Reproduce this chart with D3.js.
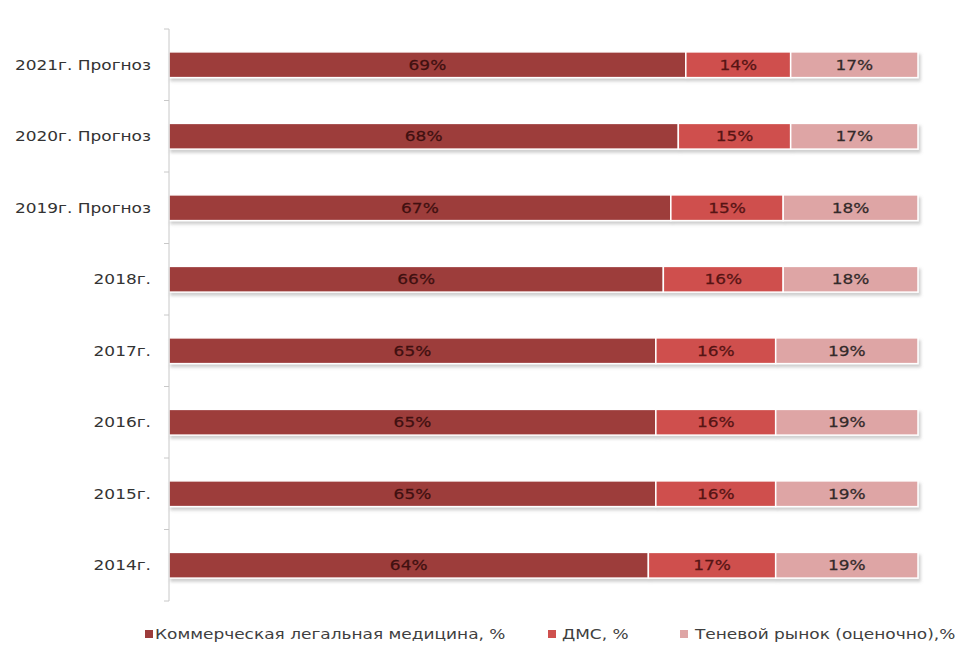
<!DOCTYPE html>
<html>
<head>
<meta charset="utf-8">
<script src="https://cdn.jsdelivr.net/npm/d3@7"></script>
<style>
  body { margin: 0; background: #fff; }
  text { font-family: "DejaVu Sans", Verdana, sans-serif; }
</style>
</head>
<body>
<div id="chart"></div>
<script>
// data (top to bottom as drawn)
let years = ["2021г. Прогноз", "2020г. Прогноз", "2019г. Прогноз", "2018г.", "2017г.", "2016г.", "2015г.", "2014г."];
let commercial = [69, 68, 67, 66, 65, 65, 65, 64];
let dms = [14, 15, 15, 16, 16, 16, 16, 17];
let shadow = [17, 17, 18, 18, 19, 19, 19, 19];
let seriesNames = ["Коммерческая легальная медицина, %", "ДМС, %", "Теневой рынок (оценочно),%"];

let colors = ["#9d3c3b", "#cf504e", "#dea5a5"];
let labelColors = ["#401010", "#561414", "#332a2a"];

let width = 959, height = 647;
let axisX = 169, barRight = 918, plotTop = 29, plotBottom = 601;
let fontSize = '14.5px';
let sx = 1.17; // glyphs in the picture are stretched horizontally

let rows = years.map((y, i) => ({ year: y, vals: [commercial[i], dms[i], shadow[i]] }));

let svg = d3.select('#chart').append('svg')
  .attr('width', width)
  .attr('height', height);

let defs = svg.append('defs');
defs.append('filter').attr('id', 'shd')
  .attr('x', '-5%').attr('y', '-30%').attr('width', '110%').attr('height', '170%')
  .append('feDropShadow')
  .attr('dx', 2).attr('dy', 3).attr('stdDeviation', 1.4)
  .attr('flood-color', '#888').attr('flood-opacity', 0.4);

let x = d3.scaleLinear().domain([0, 100]).range([axisX, barRight]);
let y = d3.scaleBand().domain(years).range([plotTop, plotBottom]).paddingInner(0.64).paddingOuter(0.32);

function stretchText(sel, tx, ty) {
  sel.attr('transform', (d, i) => `translate(${typeof tx === 'function' ? tx(d, i) : tx},${typeof ty === 'function' ? ty(d, i) : ty}) scale(${sx},1)`);
}

function segments(r) {
  let acc = 0;
  return r.vals.map((v, k) => { let s = { k: k, v: v, x0: acc, x1: acc + v }; acc += v; return s; });
}

// bars
let rowG = svg.selectAll('g.row')
  .data(rows)
  .enter()
  .append('g')
  .attr('class', 'row')
  .attr('filter', 'url(#shd)');

rowG.each(function (r) {
  d3.select(this).selectAll('rect')
    .data(segments(r))
    .enter()
    .append('rect')
    .attr('x', d => x(d.x0))
    .attr('y', y(r.year))
    .attr('width', d => x(d.x1) - x(d.x0))
    .attr('height', y.bandwidth())
    .style('fill', d => colors[d.k])
    .style('stroke', '#fff')
    .style('stroke-width', 1.5);
});

// value labels
rows.forEach(r => {
  svg.append('g').selectAll('text')
    .data(segments(r))
    .enter()
    .append('text')
    .attr('text-anchor', 'middle')
    .attr('dy', '0.36em')
    .style('font-size', fontSize)
    .style('fill', d => labelColors[d.k])
    .style('stroke', d => labelColors[d.k])
    .style('stroke-width', 0.25)
    .text(d => d.v + '%')
    .call(stretchText, d => (x(d.x0) + x(d.x1)) / 2, y(r.year) + y.bandwidth() / 2);
});

// y axis
let axisG = svg.append('g').attr('transform', `translate(${axisX},0)`);
axisG.append('line')
  .attr('y1', plotTop).attr('y2', plotBottom)
  .style('stroke', '#c8c8c8');
let bounds = d3.range(years.length + 1).map(i => plotTop + i * y.step());
axisG.selectAll('line.tick')
  .data(bounds)
  .enter()
  .append('line')
  .attr('class', 'tick')
  .attr('x1', -5).attr('x2', 0)
  .attr('y1', d => d).attr('y2', d => d)
  .style('stroke', '#c8c8c8');
axisG.selectAll('text.cat')
  .data(years)
  .enter()
  .append('text')
  .attr('class', 'cat')
  .attr('text-anchor', 'end')
  .attr('dy', '0.36em')
  .style('font-size', fontSize)
  .style('fill', '#333')
  .text(d => d)
  .call(stretchText, -18, d => y(d) + y.bandwidth() / 2);

// legend
let legendX = [145, 548, 680];
let legendGap = [10, 14, 15];
let legendY = 634;
let leg = svg.selectAll('g.leg')
  .data(seriesNames)
  .enter()
  .append('g')
  .attr('class', 'leg')
  .attr('transform', (d, i) => `translate(${legendX[i]},${legendY})`);
leg.append('rect')
  .attr('x', 0).attr('y', -4)
  .attr('width', 8).attr('height', 8)
  .style('fill', (d, i) => colors[i]);
leg.append('text')
  .attr('dy', '0.36em')
  .style('font-size', fontSize)
  .style('fill', '#404040')
  .text(d => d)
  .call(stretchText, (d, i) => legendGap[i], 0);
</script>
</body>
</html>
